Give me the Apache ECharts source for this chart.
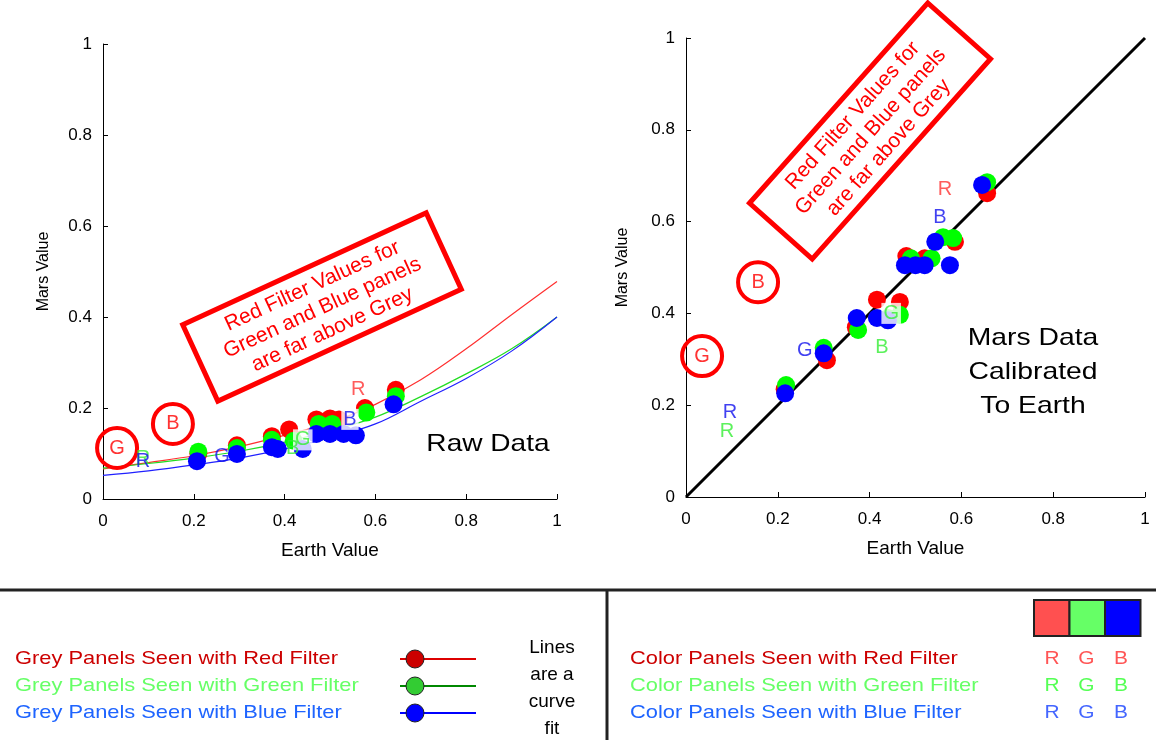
<!DOCTYPE html>
<html><head><meta charset="utf-8">
<script src="https://cdn.jsdelivr.net/npm/echarts@6/dist/echarts.min.js"></script>
<style>html,body{margin:0;padding:0;background:#fff}#c{width:1156px;height:740px}</style>
</head><body><div id="c"></div>
<script>
// ---------- data ----------
const tickVals = [0, 0.2, 0.4, 0.6, 0.8, 1];
// Raw data (left panel): grey panels, Earth value vs Mars value
const redRawX   = [0.21, 0.295, 0.372, 0.41, 0.47, 0.50, 0.52, 0.577, 0.645];
const redRawY   = [0.10, 0.118, 0.138, 0.153, 0.175, 0.177, 0.175, 0.20, 0.24];
const greenRawX = [0.21, 0.295, 0.372, 0.42, 0.475, 0.505, 0.58, 0.645];
const greenRawY = [0.104, 0.112, 0.13, 0.128, 0.165, 0.165, 0.19, 0.226];
const blueRawX  = [0.207, 0.295, 0.372, 0.385, 0.44, 0.47, 0.50, 0.53, 0.557, 0.64];
const blueRawY  = [0.083, 0.099, 0.114, 0.11, 0.11, 0.143, 0.143, 0.143, 0.140, 0.208];
// curve fits (left panel)
const fitX      = [0, 0.1, 0.2, 0.3, 0.4, 0.5, 0.6, 0.7, 0.8, 0.9, 1.0];
const redFitY   = [0.066, 0.08, 0.095, 0.115, 0.14, 0.168, 0.208, 0.262, 0.33, 0.405, 0.478];
const greenFitY = [0.068, 0.078, 0.09, 0.105, 0.125, 0.15, 0.18, 0.225, 0.275, 0.33, 0.40];
const blueFitY  = [0.052, 0.062, 0.075, 0.09, 0.11, 0.135, 0.165, 0.215, 0.265, 0.325, 0.40];
// Calibrated data (right panel)
const redCalX   = [0.215, 0.307, 0.37, 0.416, 0.466, 0.48, 0.52, 0.586, 0.656];
const redCalY   = [0.235, 0.298, 0.37, 0.43, 0.425, 0.525, 0.52, 0.556, 0.662];
const greenCalX = [0.218, 0.30, 0.375, 0.44, 0.466, 0.49, 0.535, 0.56, 0.582, 0.656];
const greenCalY = [0.244, 0.325, 0.364, 0.39, 0.397, 0.52, 0.52, 0.566, 0.564, 0.686];
const blueCalX  = [0.216, 0.30, 0.372, 0.416, 0.44, 0.477, 0.50, 0.52, 0.543, 0.575, 0.645];
const blueCalY  = [0.226, 0.313, 0.39, 0.39, 0.385, 0.505, 0.505, 0.505, 0.556, 0.505, 0.68];
const diagX = [0, 1];
const diagY = [0, 1];
// Colour panels (letters R, G, B)
const panelNames = ['R', 'G', 'B'];
const redLetRawX   = [0.562, 0.031, 0.154];
const redLetRawY   = [0.240, 0.112, 0.165];
const greenLetRawX = [0.088, 0.44, 0.418];
const greenLetRawY = [0.088, 0.13, 0.11];
const blueLetRawX  = [0.088, 0.262, 0.544];
const blueLetRawY  = [0.082, 0.094, 0.175];
const redLetCalX   = [0.564, 0.035, 0.157];
const redLetCalY   = [0.669, 0.307, 0.468];
const greenLetCalX = [0.089, 0.447, 0.427];
const greenLetCalY = [0.142, 0.40, 0.325];
const blueLetCalX  = [0.096, 0.259, 0.553];
const blueLetCalY  = [0.185, 0.32, 0.608];

// ---------- helpers ----------
const FONT = 'Liberation Sans, Arial, sans-serif';
const zip = (xs, ys) => xs.map((x, i) => [x, ys[i]]);
function pts(xs, ys, color, gi, z) {
  return { type: 'scatter', xAxisIndex: gi, yAxisIndex: gi, z: z, symbol: 'circle', symbolSize: 18,
    itemStyle: { color: color, opacity: 1 }, data: zip(xs, ys), silent: true };
}
function fit(ys, color) {
  return { type: 'line', xAxisIndex: 0, yAxisIndex: 0, z: 1, smooth: 0.4, showSymbol: false,
    lineStyle: { color: color, width: 1.2 }, data: zip(fitX, ys), silent: true };
}
function letters(xs, ys, color, gi, circled, whiteBg) {
  const data = xs.map((x, i) => {
    const n = panelNames[i];
    const item = { value: [x, ys[i]], name: n,
      label: { show: true, position: 'inside', formatter: n, color: color, fontSize: 20, fontFamily: FONT } };
    if (circled && n !== 'R') {
      item.symbolSize = 40;
      item.itemStyle = { color: 'rgba(0,0,0,0)', borderColor: '#ff0000', borderWidth: 4, opacity: 1 };
    }
    if (whiteBg && whiteBg.indexOf(n) >= 0) {
      item.label.backgroundColor = '#ffffff';
      item.label.padding = [1, 2, 0, 2];
    }
    return item;
  });
  return { type: 'scatter', xAxisIndex: gi, yAxisIndex: gi, z: 10, symbol: 'circle', symbolSize: 1,
    itemStyle: { color: 'rgba(0,0,0,0)' }, data: data, silent: true };
}
function xAx(gi) {
  return { gridIndex: gi, type: 'value', min: 0, max: 1, interval: 0.2,
    name: 'Earth Value', nameLocation: 'middle', nameGap: 42,
    nameTextStyle: { color: '#000', fontSize: 19, fontFamily: FONT },
    axisLine: { lineStyle: { color: '#000', width: 1 } },
    axisTick: { inside: true, length: 5, lineStyle: { color: '#000' } },
    axisLabel: { color: '#000', fontSize: 17, fontFamily: FONT, margin: 14 },
    splitLine: { show: false } };
}
function yAx(gi, gap) {
  return { gridIndex: gi, type: 'value', min: 0, max: 1, interval: 0.2,
    name: 'Mars Value', nameLocation: 'middle', nameGap: gap,
    nameTextStyle: { color: '#000', fontSize: 16, fontFamily: FONT },
    axisLine: { show: true, lineStyle: { color: '#000', width: 1 } },
    axisTick: { show: true, inside: true, length: 5, lineStyle: { color: '#000' } },
    axisLabel: { color: '#000', fontSize: 17, fontFamily: FONT, margin: 11 },
    splitLine: { show: false } };
}
function noteBox(cx, cy, deg) {
  return { type: 'group', x: cx, y: cy, rotation: deg * Math.PI / 180, z: 20, children: [
    { type: 'rect', shape: { x: -134, y: -42, width: 268, height: 84 },
      style: { fill: 'rgba(0,0,0,0)', stroke: '#ff0000', lineWidth: 5 } },
    { type: 'text', x: 0, y: 1, style: { text: 'Red Filter Values for\nGreen and Blue panels\nare far above Grey',
      align: 'center', verticalAlign: 'middle', fill: '#ff0000', font: '21px ' + FONT, lineHeight: 24 } }
  ] };
}
const legFont = '19px ' + FONT;
const legColors = ['#cc0000', '#66ff66', '#1e64ff'];
const filterNames = ['Red', 'Green', 'Blue'];
const legYs = [659, 686, 713];
const graphics = [
  noteBox(322, 307, 24.7),
  noteBox(870, 131, 48.3),
  { type: 'text', x: 488, y: 444, scaleX: 1.17, style: { text: 'Raw Data', align: 'center', verticalAlign: 'middle', fill: '#000', font: '24px ' + FONT } },
  { type: 'text', x: 1033, y: 372, scaleX: 1.18, style: { text: 'Mars Data\nCalibrated\nTo Earth', align: 'center', verticalAlign: 'middle', fill: '#000', font: '24px ' + FONT, lineHeight: 34 } },
  { type: 'line', shape: { x1: 0, y1: 590, x2: 1156, y2: 590 }, style: { stroke: '#222', lineWidth: 3 } },
  { type: 'line', shape: { x1: 607, y1: 590, x2: 607, y2: 740 }, style: { stroke: '#222', lineWidth: 3 } },
  { type: 'text', x: 552, y: 688, style: { text: 'Lines\nare a\ncurve\nfit', align: 'center', verticalAlign: 'middle', fill: '#000', font: legFont, lineHeight: 27 } }
];
const legLine = ['#dd0000', '#008800', '#0000ff'];
const legDot = ['#cc0000', '#33cc33', '#0000ff'];
filterNames.forEach((f, i) => {
  graphics.push({ type: 'text', x: 15, y: legYs[i], scaleX: 1.15, style: { text: 'Grey Panels Seen with ' + f + ' Filter', verticalAlign: 'middle', fill: legColors[i], font: legFont } });
  graphics.push({ type: 'line', shape: { x1: 400, y1: legYs[i], x2: 476, y2: legYs[i] }, style: { stroke: legLine[i], lineWidth: 2 } });
  graphics.push({ type: 'circle', shape: { cx: 415, cy: legYs[i], r: 9 }, style: { fill: legDot[i], stroke: '#222', lineWidth: 1 } });
  graphics.push({ type: 'text', x: 630, y: legYs[i], scaleX: 1.15, style: { text: 'Color Panels Seen with ' + f + ' Filter', verticalAlign: 'middle', fill: legColors[i], font: legFont } });
  panelNames.forEach((n, j) => {
    graphics.push({ type: 'text', x: 1052 + j * 34.5, y: legYs[i], scaleX: 1.1, style: { text: n, align: 'center', verticalAlign: 'middle', fill: ['#ff5555', '#55ff55', '#4466ff'][i], font: legFont } });
  });
});
['#ff5050', '#66ff66', '#0000ff'].forEach((c, j) => {
  graphics.push({ type: 'rect', shape: { x: 1034 + j * 35.5, y: 600, width: 35.5, height: 36 }, style: { fill: c, stroke: '#222', lineWidth: 2 } });
});

const chart = echarts.init(document.getElementById('c'), null, { renderer: 'canvas' });
chart.setOption({
  backgroundColor: '#fff',
  animation: false,
  grid: [
    { left: 103, top: 44, width: 454, height: 455 },
    { left: 686, top: 38, width: 459, height: 459 }
  ],
  xAxis: [xAx(0), xAx(1)],
  yAxis: [yAx(0, 51), yAx(1, 55)],
  series: [
    fit(redFitY, '#ff3030'), fit(greenFitY, '#22dd22'), fit(blueFitY, '#2020ff'),
    pts(redRawX, redRawY, '#ff0000', 0, 2), pts(greenRawX, greenRawY, '#00ff00', 0, 3), pts(blueRawX, blueRawY, '#0000ff', 0, 4),
    { type: 'line', xAxisIndex: 1, yAxisIndex: 1, z: 1, showSymbol: false, lineStyle: { color: '#000', width: 3 }, data: zip(diagX, diagY), silent: true },
    pts(redCalX, redCalY, '#ff0000', 1, 2), pts(greenCalX, greenCalY, '#00ff00', 1, 3), pts(blueCalX, blueCalY, '#0000ff', 1, 4),
    letters(redLetRawX, redLetRawY, '#ff3333', 0, true, null),
    letters(greenLetRawX, greenLetRawY, '#33ee33', 0, false, ['G']),
    letters(blueLetRawX, blueLetRawY, '#1010ee', 0, false, ['B']),
    letters(redLetCalX, redLetCalY, '#ff3333', 1, true, null),
    letters(greenLetCalX, greenLetCalY, '#33ee33', 1, false, ['G']),
    letters(blueLetCalX, blueLetCalY, '#1010ee', 1, false, null)
  ],
  graphic: graphics
});
</script></body></html>
